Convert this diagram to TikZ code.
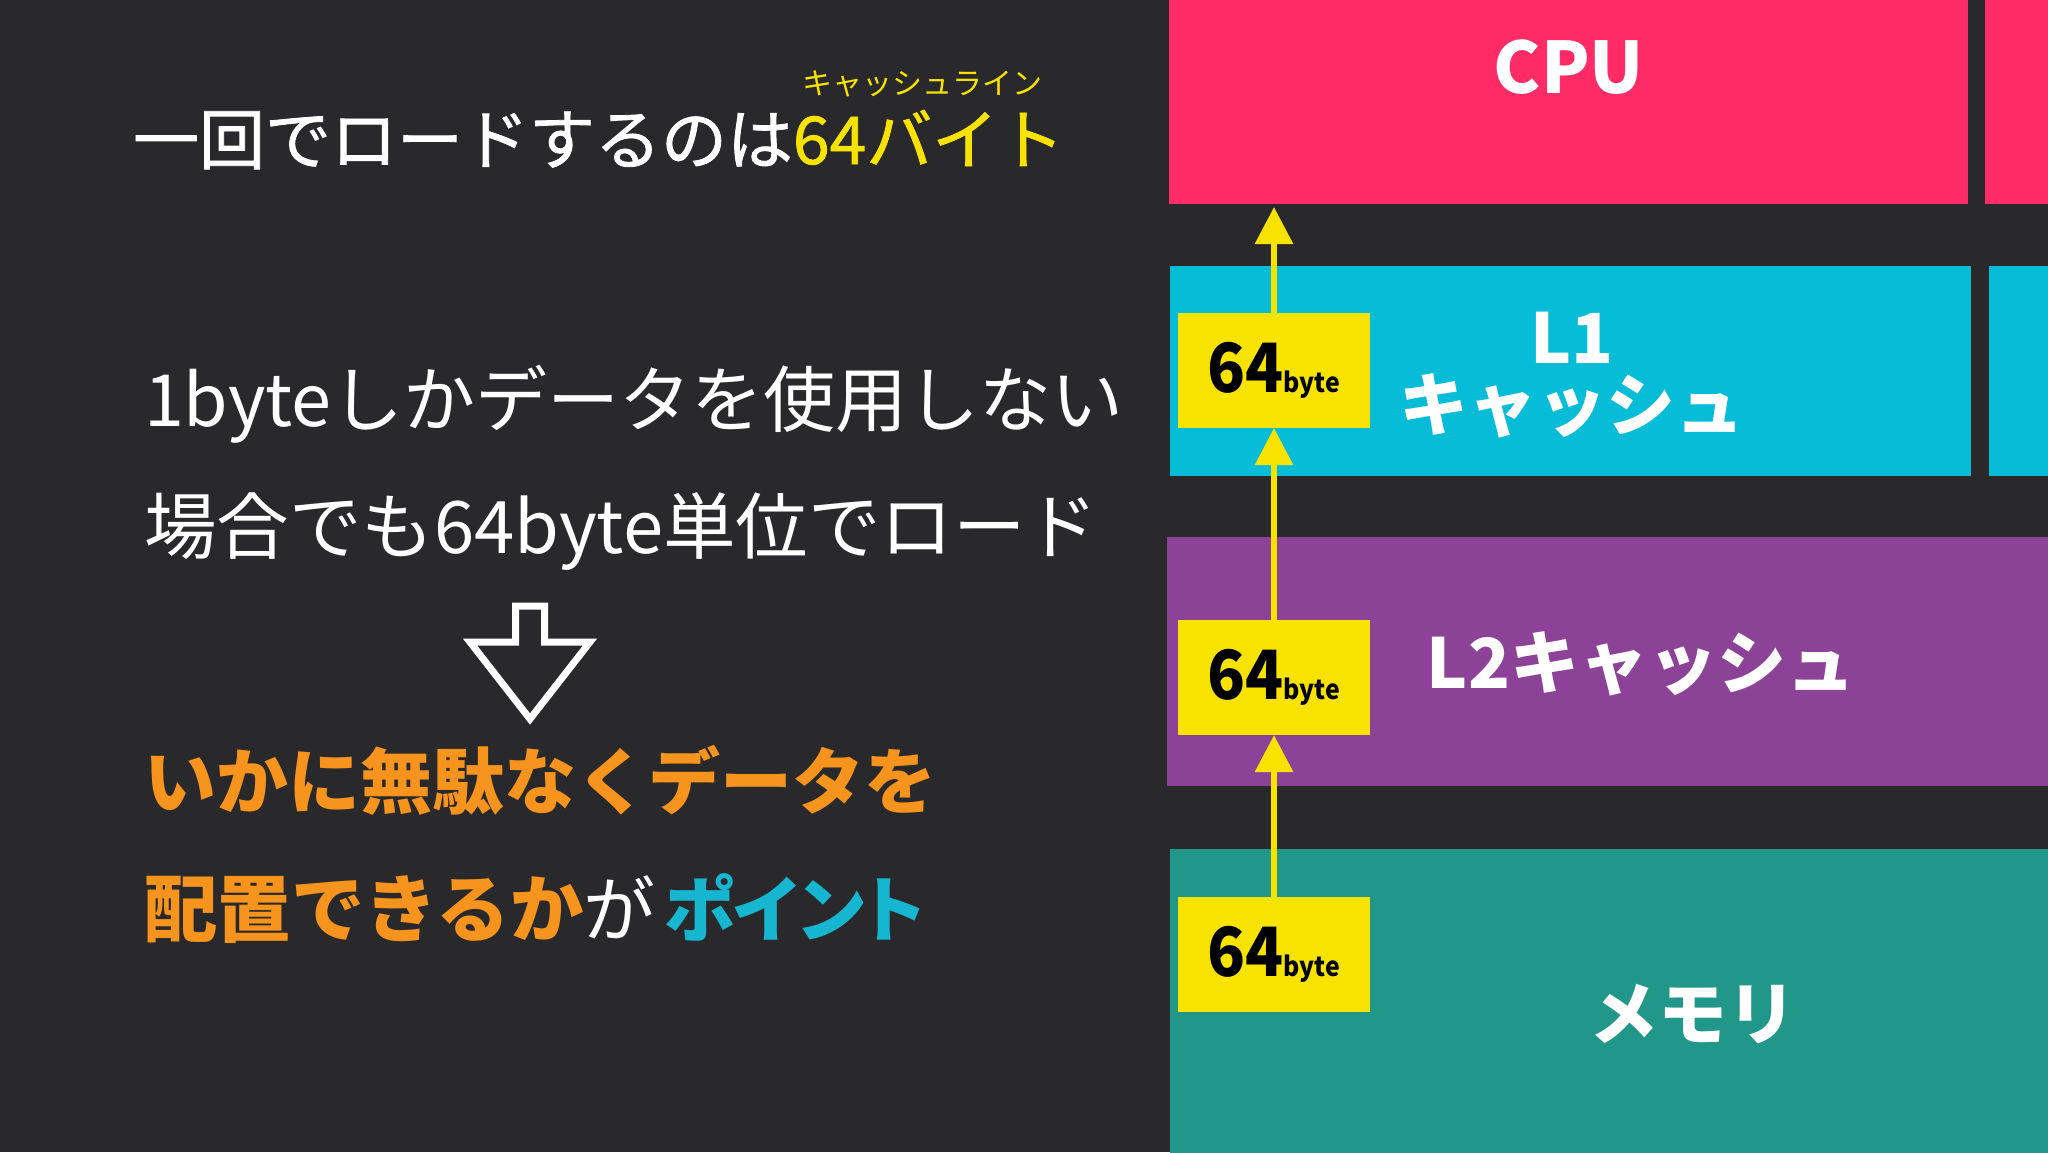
\documentclass[tikz,border=0pt]{standalone}
\usepackage{fontspec}
\usepackage{graphicx}
\setmainfont{Noto Sans CJK JP}
\usetikzlibrary{arrows.meta}
\definecolor{bg}{HTML}{29292B}
\definecolor{cpuc}{HTML}{FE2B67}
\definecolor{lonec}{HTML}{06BCD6}
\definecolor{ltwoc}{HTML}{8C4397}
\definecolor{memc}{HTML}{21978A}
\definecolor{yel}{HTML}{F8E300}
\definecolor{orng}{HTML}{F7941D}
\definecolor{cyantxt}{HTML}{16B6D0}
\newcommand{\fsz}[1]{\fontsize{#1}{#1}\selectfont}
\newcommand{\bytelbl}{\scalebox{0.92}[1]{\fsz{68}64\fsz{27}byte}}
\begin{document}
\begin{tikzpicture}[x=1pt,y=-1pt,
  every node/.style={inner sep=0pt,outer sep=0pt},
  blk/.style={draw=none,anchor=north west,rectangle},
  ybox/.style={blk,fill=yel,minimum width=192pt,minimum height=115pt,text=black,font=\bfseries},
  boxlbl/.style={text=white,font=\fsz{69}\bfseries,align=center},
  leftline/.style={anchor=base west,text=white,font=\fsz{72}},
  yarrow/.style={draw=yel,line width=6pt,-{Triangle[width=37pt,length=37pt]}}]
\fill[bg] (0,0) rectangle (2048,1152);
\useasboundingbox (0,0) rectangle (2048,1152);
% blocks
\node[blk,fill=cpuc,minimum width=799pt,minimum height=204pt] (cpu) at (1169,0) {};
\node[blk,fill=cpuc,minimum width=70pt,minimum height=204pt] (cpub) at (1985,0) {};
\node[blk,fill=lonec,minimum width=801pt,minimum height=210pt] (lone) at (1170,266) {};
\node[blk,fill=lonec,minimum width=70pt,minimum height=210pt] (loneb) at (1989,266) {};
\node[blk,fill=ltwoc,minimum width=890pt,minimum height=249pt] (ltwo) at (1167,537) {};
\node[blk,fill=memc,minimum width=890pt,minimum height=310pt] (mem) at (1170,849) {};
% block labels
\node[boxlbl,font=\fsz{71}\bfseries] (cputxt) at (1569,67) {CPU};
\node[boxlbl] (lonetxt) at (1572,375) {\fsz{69}\bfseries L1\\[-2pt]キャッシュ};
\node[boxlbl] (ltwotxt) at (1641,664) {L2キャッシュ};
\node[boxlbl] (memtxt) at (1693,1014) {メモリ};
% yellow boxes
\node[ybox] (yb1) at (1178,313) {\bytelbl};
\node[ybox] (yb2) at (1178,620) {\bytelbl};
\node[ybox] (yb3) at (1178,897) {\bytelbl};
% arrows
\draw[yarrow,shorten >=3pt] (yb1.north) -- (yb1.north |- cpu.south);
\draw[yarrow] (yb2.north) -- (yb1.south);
\draw[yarrow] (yb3.north) -- (yb2.south);
% left text
\node[anchor=base,text=yel,font=\fsz{30}] (ruby) at (922,94) {キャッシュライン};
\node[leftline,font=\fsz{66}\addfontfeatures{FakeBold=1.2}] (lineone) at (133,164) {一回でロードするのは\textcolor{yel}{64バイト}};
\node[leftline] (linetwo) at (144,426) {1byteしかデータを使用しない};
\node[leftline,font=\fsz{72.5}] (linethree) at (144,553) {場合でも64byte単位でロード};
\node[leftline,text=orng,font=\fsz{72}\bfseries] (linefour) at (144,808) {いかに無駄なくデータを};
\node[leftline] (linefive) at (144,936) {\textcolor{orng}{\fsz{73.5}\bfseries 配置できるか}が\hspace{8pt}\textcolor{cyantxt}{\bfseries\addfontfeatures{RawFeature=+palt}ポイント}};
% down arrow
\draw[white,line width=7pt,miter limit=10,fill=bg]
  (515.5,606) -- (544.5,606) -- (544.5,642) -- (590,642) -- (530,719) -- (470,642) -- (515.5,642) -- cycle;
\end{tikzpicture}
\end{document}
